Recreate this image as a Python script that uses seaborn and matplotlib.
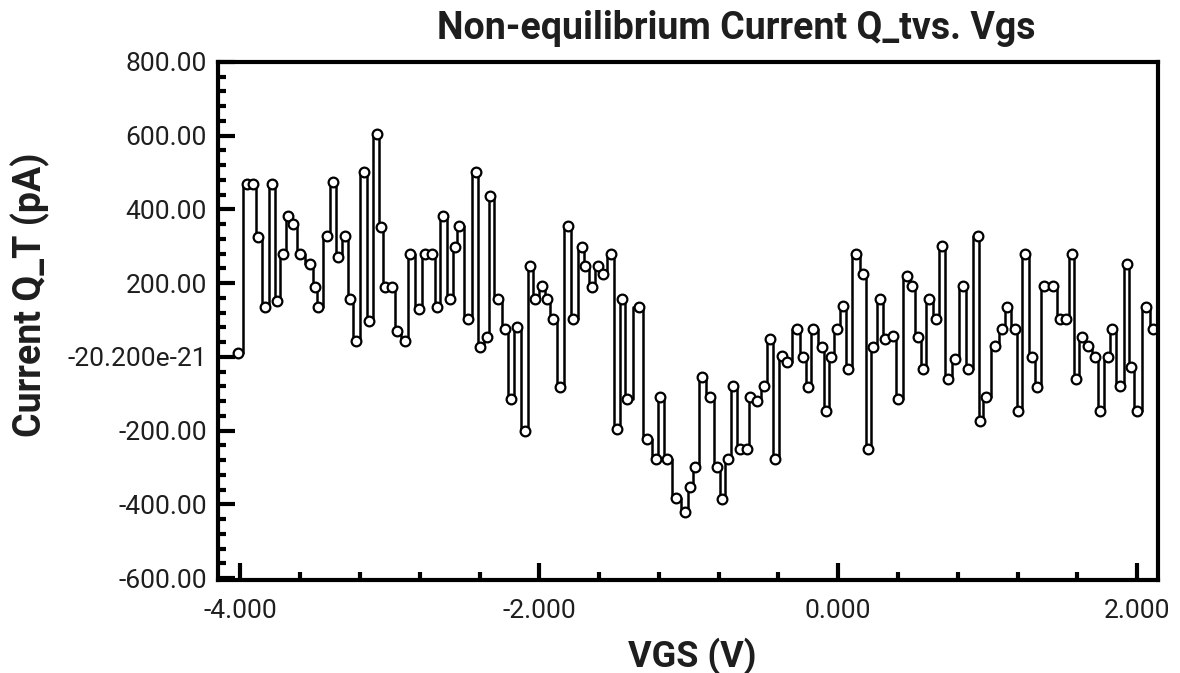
import matplotlib
matplotlib.use("Agg")
import matplotlib.pyplot as plt
from matplotlib.ticker import MultipleLocator, FixedLocator, FixedFormatter
import pandas as pd
import seaborn as sns

# gate voltage (V)
vgs = [-4.013, -3.953, -3.913, -3.880, -3.833, -3.786, -3.753, -3.712, -3.679, -3.645,
       -3.599, -3.532, -3.498, -3.478, -3.418, -3.378, -3.344, -3.298, -3.264, -3.224,
       -3.171, -3.137, -3.084, -3.057, -3.030, -2.983, -2.950, -2.896, -2.863, -2.803,
       -2.763, -2.716, -2.682, -2.642, -2.595, -2.562, -2.535, -2.475, -2.421, -2.395,
       -2.348, -2.328, -2.274, -2.227, -2.187, -2.147, -2.094, -2.060, -2.027, -1.980,
       -1.946, -1.906, -1.860, -1.806, -1.773, -1.712, -1.692, -1.645, -1.605, -1.572,
       -1.518, -1.478, -1.445, -1.411, -1.331, -1.278, -1.217, -1.191, -1.144, -1.085,
       -1.023, -0.990, -0.957, -0.910, -0.856, -0.809, -0.776, -0.736, -0.702, -0.656,
       -0.609, -0.589, -0.542, -0.495, -0.455, -0.421, -0.375, -0.341, -0.274, -0.234,
       -0.201, -0.167, -0.107, -0.080, -0.047, -0.007, 0.033, 0.067, 0.120, 0.167,
       0.201, 0.234, 0.281, 0.314, 0.368, 0.401, 0.462, 0.495, 0.535, 0.569,
       0.609, 0.656, 0.696, 0.736, 0.783, 0.836, 0.870, 0.936, 0.950, 0.990,
       1.050, 1.097, 1.130, 1.184, 1.204, 1.251, 1.298, 1.331, 1.378, 1.438,
       1.485, 1.525, 1.565, 1.592, 1.632, 1.672, 1.719, 1.753, 1.806, 1.833,
       1.886, 1.933, 1.960, 2.000, 2.060, 2.107]

# current Q_T (pA)
current = [10, 469, 469, 325, 136, 469, 152, 279, 383, 361,
           279, 252, 190, 136, 328, 475, 271, 328, 157, 43,
           502, 98, 605, 353, 190, 190, 71, 43, 279, 130,
           279, 279, 136, 383, 157, 298, 355, 103, 502, 27,
           54, 437, 157, 76, -114, 81, -201, 247, 157, 193,
           157, 103, -81, 355, 103, 298, 247, 190, 247, 225,
           279, -195, 157, -114, 136, -222, -277, -109, -277, -383,
           -421, -353, -298, -54, -109, -298, -385, -277, -79, -250,
           -250, -109, -119, -79, 49, -277, 3, -14, 76, 0,
           -81, 76, 27, -147, 0, 76, 138, -33, 279, 225,
           -250, 27, 157, 49, 57, -114, 220, 193, 54, -33,
           157, 103, 301, -60, -5, 193, -33, 328, -174, -109,
           30, 76, 136, 76, -147, 279, 0, -81, 193, 193,
           103, 103, 279, -60, 54, 30, 0, -147, 0, 76,
           -79, 252, -27, -147, 136, 76]

ytick_vals = [800, 600, 400, 200, 0, -200, -400, -600]
ytick_text = ["800.00", "600.00", "400.00", "200.00", "-20.200e-21",
              "-200.00", "-400.00", "-600.00"]
xtick_vals = [-4, -2, 0, 2]
xtick_text = ["-4.000", "-2.000", "0.000", "2.000"]

df = pd.DataFrame({"vgs": vgs, "current": current})

sns.set_style("white")
plt.rcParams["font.family"] = ["Roboto", "DejaVu Sans"]

fig = plt.figure(figsize=(11.8, 6.73), dpi=100)
ax = fig.add_axes([0.1847, 0.1382, 0.7967, 0.7697])

sns.lineplot(data=df, x="vgs", y="current", sort=False, ax=ax,
             color="black", linewidth=1.8, drawstyle="steps-mid",
             marker="o", markersize=7, markerfacecolor="white",
             markeredgecolor="black", markeredgewidth=1.6)

ax.set_xlim(-4.15, 2.14)
ax.set_ylim(-605, 800)

ax.xaxis.set_major_locator(FixedLocator(xtick_vals))
ax.xaxis.set_major_formatter(FixedFormatter(xtick_text))
ax.xaxis.set_minor_locator(MultipleLocator(0.4))
ax.yaxis.set_major_locator(FixedLocator(ytick_vals))
ax.yaxis.set_major_formatter(FixedFormatter(ytick_text))
ax.yaxis.set_minor_locator(MultipleLocator(40))

ax.tick_params(axis="both", which="major", direction="in", length=12, width=3,
               labelsize=19, labelcolor="#1e1e1e", color="black")
ax.tick_params(axis="both", which="minor", direction="in", length=6, width=3,
               color="black")
ax.tick_params(axis="y", which="both", left=True, right=False, pad=8)
ax.tick_params(axis="x", which="both", bottom=True, top=False, pad=14)

for side in ["left", "top", "right", "bottom"]:
    ax.spines[side].set_color("black")
    ax.spines[side].set_linewidth(3)

ax.set_xlabel("")
ax.set_ylabel("")

fig.text(0.624, 0.958, "Non-equilibrium Current Q_tvs. Vgs", ha="center", va="center",
         fontsize=27, fontweight="bold", color="#1e1e1e")
fig.text(0.587, 0.025, "VGS (V)", ha="center", va="center",
         fontsize=26, fontweight="bold", color="#1e1e1e")
fig.text(0.026, 0.562, "Current Q_T (pA)", ha="center", va="center", rotation=90,
         fontsize=27, fontweight="bold", color="#1e1e1e")

fig.savefig("out.png", dpi=100, facecolor="white")
